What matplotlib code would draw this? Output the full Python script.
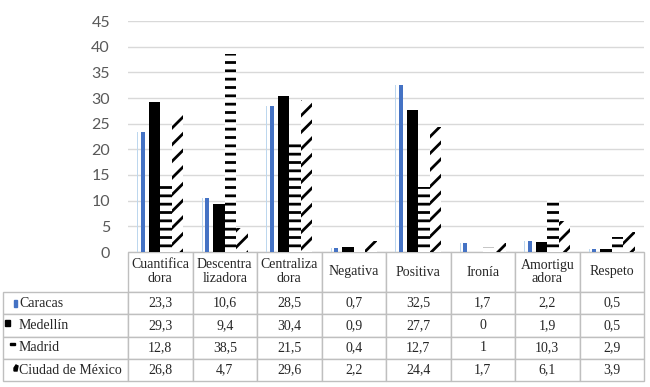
import numpy as np
import matplotlib
matplotlib.use("Agg")
import matplotlib.pyplot as plt
from matplotlib.table import Table
from matplotlib.patches import Rectangle, Polygon

categories = ["Cuantifica\ndora", "Descentra\nlizadora", "Centraliza\ndora", "Negativa",
              "Positiva", "Ironía", "Amortigu\nadora", "Respeto"]
cities = ["Caracas", "Medellín", "Madrid", "Ciudad de México"]
caracas = [23.3, 10.6, 28.5, 0.7, 32.5, 1.7, 2.2, 0.5]
medellin = [29.3, 9.4, 30.4, 0.9, 27.7, 0, 1.9, 0.5]
madrid = [12.8, 38.5, 21.5, 0.4, 12.7, 1, 10.3, 2.9]
cdmx = [26.8, 4.7, 29.6, 2.2, 24.4, 1.7, 6.1, 3.9]
yticks = list(range(0, 50, 5))

def fmt(v):
    return ("%g" % v).replace(".", ",")

plt.rcParams["hatch.linewidth"] = 2.0

W, H = 650, 387
fig = plt.figure(figsize=(W / 100, H / 100), dpi=100)
ax = fig.add_axes([128 / W, (H - 252) / H, 516 / W, 231 / H])

x = np.arange(len(categories))
bw = 0.18

# Caracas: thin light line plus a blue stripe
ax.bar(x - 0.36 + 0.01, caracas, width=0.02, color="#BDD7EE", zorder=3)
ax.bar(x - 0.27, caracas, width=0.06, color="#4472C4", zorder=3)
# Medellín: solid black
ax.bar(x - 0.09, medellin, width=bw, color="black", zorder=3)
# Madrid: horizontal dashes
ax.bar(x + 0.09, madrid, width=bw, facecolor="white", edgecolor="black",
       linewidth=0, hatch="--", zorder=3)
# Ciudad de México: diagonal dashes
ax.bar(x + 0.27, cdmx, width=bw, facecolor="white", edgecolor="black",
       linewidth=0, hatch="//", zorder=3)

ax.set_xlim(-0.5, len(categories) - 0.5)
ax.set_ylim(0, 45)
ax.set_yticks(yticks)
ax.set_xticks([])
ax.tick_params(axis="y", length=0, pad=13, labelsize=11.5, labelcolor="#595959")
for lab in ax.get_yticklabels():
    lab.set_fontfamily("Lato")
ax.grid(axis="y", color="#D9D9D9", linewidth=1.0, zorder=0)
ax.set_axisbelow(True)
for s in ax.spines.values():
    s.set_visible(False)

# data table below the plot
tb = Table(ax, loc="bottom")
tb.auto_set_font_size(False)
col_w = 1 / len(categories)
head_h = 40 / 231
row_h = 22.3 / 231
lab_w = 125 / 516
for j, c in enumerate(categories):
    tb.add_cell(0, j, width=col_w, height=head_h, text=c, loc="center")
series = [caracas, medellin, madrid, cdmx]
for i, vals in enumerate(series):
    tb.add_cell(i + 1, -1, width=lab_w, height=row_h, text="", loc="left")
    for j, v in enumerate(vals):
        tb.add_cell(i + 1, j, width=col_w, height=row_h, text=fmt(v), loc="center")
for cell in tb.get_celld().values():
    cell.set_edgecolor("#BFBFBF")
    cell.set_linewidth(1.0)
    cell.set_text_props(fontfamily="Liberation Serif", fontsize=10, color="#262626",
                        linespacing=1.1)
ax.add_table(tb)

# row labels
for i, name in enumerate(cities):
    ax.text((19 - 128) / 516, -(head_h + row_h * (i + 0.5)), name,
            transform=ax.transAxes, ha="left", va="center",
            fontfamily="Liberation Serif", fontsize=10, color="#262626")

# legend keys in the row labels
def fr(px, py, w, h):
    return (px / W, 1 - (py + h) / H), w / W, h / H

xy, w, h = fr(14, 300, 3, 7)
fig.add_artist(Rectangle(xy, w, h, color="#4472C4", transform=fig.transFigure))
xy, w, h = fr(5, 320, 5, 6)
fig.add_artist(Rectangle(xy, w, h, color="black", transform=fig.transFigure))
xy, w, h = fr(10, 343, 5, 2)
fig.add_artist(Rectangle(xy, w, h, color="black", transform=fig.transFigure))
pts = [(14, 371), (17, 371), (18, 366), (16, 365), (14, 368)]
fig.add_artist(Polygon([(px / W, 1 - py / H) for px, py in pts], closed=True,
                       color="black", transform=fig.transFigure))

fig.savefig("out.png", dpi=100)
